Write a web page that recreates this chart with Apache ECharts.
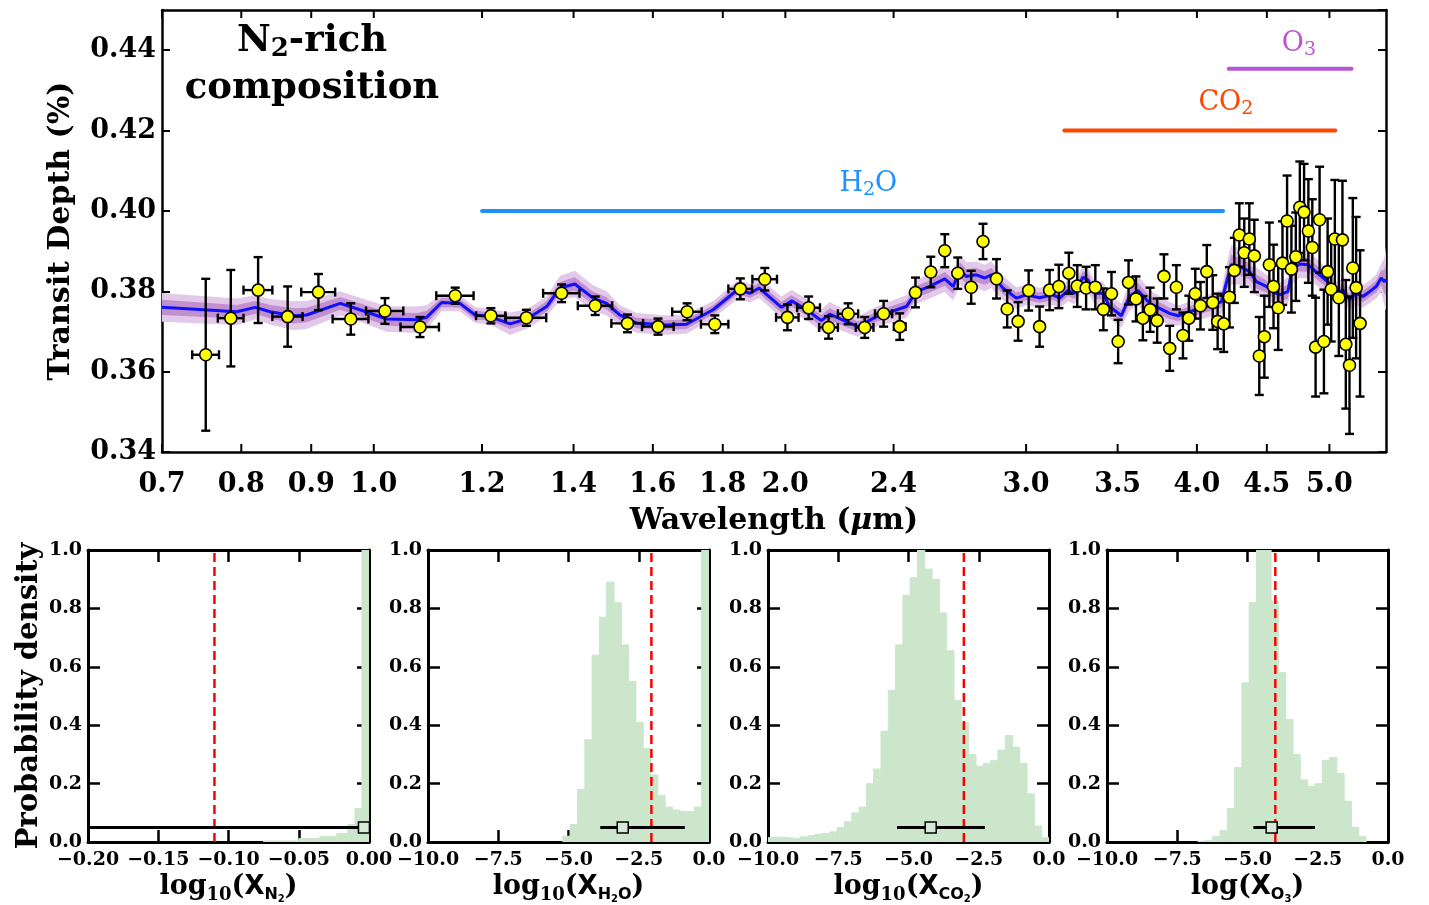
<!DOCTYPE html>
<html><head><meta charset="utf-8">
<script src="https://cdn.jsdelivr.net/npm/echarts@6/dist/echarts.min.js"></script>
<style>html,body{margin:0;padding:0;background:#fff}#c{width:1429px;height:905px}</style>
</head><body><div id="c"></div>
<script>
// ---------------- DATA ----------------
const obsWl = [0.7535,0.786,0.823,0.865,0.911,0.962,1.019,1.081,1.147,1.218,
 1.293,1.372,1.452,1.533,1.614,1.695,1.776,1.854,1.932,2.007,
 2.080,2.151,2.223,2.286,2.360,2.425,2.490,2.555,2.616,2.674,
 2.735,2.790,2.854,2.906,2.960,3.013,3.069,3.121,3.170,3.224,
 3.270,3.319,3.371,3.417,3.464,3.503,3.565,3.610,3.652,3.697,
 3.741,3.784,3.821,3.864,3.907,3.946,3.989,4.024,4.067,4.108,
 4.142,4.185,4.225,4.260,4.296,4.332,4.369,4.406,4.443,4.481,
 4.519,4.551,4.587,4.620,4.656,4.690,4.725,4.757,4.791,4.826,
 4.858,4.885,4.918,4.954,4.985,5.015,5.046,5.080,5.111,5.140,
 5.172,5.201,5.230,5.265];
const obsDepth = [0.3642,0.3733,0.3803,0.3737,0.3798,0.3731,0.3751,0.3711,0.3789,0.3739,
 0.3734,0.3795,0.3764,0.3720,0.3712,0.3749,0.3718,0.3806,0.3830,0.3735,
 0.3759,0.3710,0.3744,0.3710,0.3744,0.3712,0.3797,0.3848,0.3901,0.3845,
 0.3810,0.3924,0.3831,0.3756,0.3725,0.3802,0.3712,0.3803,0.3812,0.3845,
 0.3813,0.3808,0.3810,0.3755,0.3794,0.3675,0.3822,0.3781,0.3733,0.3754,
 0.3727,0.3837,0.3658,0.3810,0.3690,0.3733,0.3794,0.3764,0.3849,0.3772,
 0.3725,0.3719,0.3785,0.3852,0.3940,0.3896,0.3930,0.3888,0.3639,0.3687,
 0.3866,0.3812,0.3759,0.3870,0.3975,0.3855,0.3886,0.4009,0.3997,0.3950,
 0.3909,0.3661,0.3978,0.3675,0.3849,0.3805,0.3930,0.3784,0.3928,0.3668,
 0.3616,0.3858,0.3809,0.3720];
const obsErr = [0.0189,0.0120,0.0082,0.0075,0.0045,0.0039,0.0032,0.0025,0.0020,0.0019,
 0.0020,0.0022,0.0023,0.0022,0.0020,0.0021,0.0022,0.0026,0.0028,0.0032,
 0.0028,0.0028,0.0026,0.0026,0.0032,0.0033,0.0037,0.0038,0.0041,0.0039,
 0.0041,0.0044,0.0049,0.0046,0.0048,0.0050,0.0050,0.0050,0.0054,0.0051,
 0.0052,0.0053,0.0055,0.0052,0.0054,0.0054,0.0055,0.0056,0.0055,0.0055,
 0.0055,0.0055,0.0056,0.0055,0.0057,0.0056,0.0062,0.0059,0.0066,0.0068,
 0.0069,0.0070,0.0075,0.0081,0.0079,0.0085,0.0089,0.0090,0.0097,0.0102,
 0.0105,0.0104,0.0105,0.0104,0.0113,0.0108,0.0110,0.0114,0.0120,0.0129,
 0.0120,0.0123,0.0132,0.0129,0.0132,0.0130,0.0147,0.0145,0.0147,0.0160,
 0.0171,0.0174,0.0176,0.0182];
const obsWlErr = [0.017,0.017,0.020,0.022,0.026,0.029,0.032,0.035,0.036,0.030,
 0.044,0.042,0.042,0.041,0.043,0.042,0.041,0.037,0.040,0.038,
 0.040,0.034,0.038,0.034,0.034,0.024,0.018,0.015,0.015,0.015,
 0.015,0.015,0.015,0,0,0,0,0,0,0,
 0,0,0,0,0,0,0,0,0,0,
 0,0,0,0,0,0,0,0,0,0,
 0,0,0,0,0,0,0,0,0,0,
 0,0,0,0,0,0,0,0,0,0,
 0,0,0,0,0,0,0,0,0,0,
 0,0,0,0];

const modelWl = [0.700,0.794,0.819,0.840,0.873,0.893,0.945,0.977,1.022,1.075,
 1.093,1.121,1.156,1.186,1.216,1.258,1.294,1.338,1.368,1.403,
 1.447,1.480,1.513,1.557,1.637,1.693,1.771,1.847,1.884,1.914,
 1.987,2.021,2.073,2.125,2.155,2.260,2.332,2.452,2.494,2.550,
 2.616,2.653,2.683,2.713,2.759,2.798,2.830,2.885,2.951,3.001,
 3.069,3.139,3.175,3.219,3.256,3.301,3.329,3.367,3.415,3.453,
 3.522,3.571,3.622,3.694,3.820,3.874,3.951,4.064,4.168,4.203,
 4.238,4.298,4.371,4.421,4.496,4.546,4.598,4.662,4.697,4.729,
 4.755,4.822,4.918,5.001,5.058,5.114,5.172,5.231,5.290,5.350,
 5.410,5.456,5.486,5.500];
const modelDepth = [0.3760,0.3749,0.3760,0.3749,0.3739,0.3741,0.3770,0.3754,0.3731,0.3729,
 0.3735,0.3772,0.3770,0.3741,0.3737,0.3719,0.3731,0.3762,0.3808,0.3818,
 0.3783,0.3770,0.3741,0.3721,0.3716,0.3718,0.3754,0.3805,0.3795,0.3808,
 0.3760,0.3776,0.3754,0.3727,0.3743,0.3712,0.3737,0.3762,0.3799,0.3812,
 0.3831,0.3812,0.3853,0.3837,0.3841,0.3833,0.3841,0.3808,0.3783,0.3791,
 0.3784,0.3791,0.3783,0.3802,0.3795,0.3835,0.3828,0.3795,0.3795,0.3762,
 0.3739,0.3787,0.3802,0.3770,0.3745,0.3739,0.3749,0.3762,0.3774,0.3820,
 0.3866,0.3862,0.3849,0.3824,0.3812,0.3799,0.3791,0.3799,0.3858,0.3862,
 0.3868,0.3866,0.3841,0.3820,0.3795,0.3803,0.3780,0.3795,0.3787,0.3799,
 0.3812,0.3833,0.3824,0.3830];
const modelSigma2 = [0.0036,0.0033,0.0030,0.0032,0.0036,0.0035,0.0030,0.0030,0.0032,0.0033,
 0.0030,0.0022,0.0020,0.0020,0.0019,0.0028,0.0024,0.0025,0.0030,0.0033,
 0.0032,0.0030,0.0025,0.0025,0.0024,0.0024,0.0022,0.0023,0.0023,0.0025,
 0.0027,0.0028,0.0027,0.0028,0.0030,0.0025,0.0025,0.0028,0.0030,0.0030,
 0.0033,0.0035,0.0037,0.0035,0.0033,0.0033,0.0033,0.0030,0.0027,0.0025,
 0.0025,0.0025,0.0025,0.0027,0.0027,0.0030,0.0030,0.0030,0.0030,0.0030,
 0.0030,0.0035,0.0037,0.0033,0.0028,0.0025,0.0025,0.0028,0.0030,0.0045,
 0.0050,0.0045,0.0040,0.0035,0.0030,0.0030,0.0030,0.0035,0.0040,0.0035,
 0.0035,0.0035,0.0033,0.0030,0.0028,0.0028,0.0028,0.0028,0.0028,0.0028,
 0.0030,0.0035,0.0060,0.0080];
const modelSigma1 = [0.0019,0.0017,0.0016,0.0017,0.0019,0.0018,0.0016,0.0016,0.0017,0.0017,
 0.0016,0.0012,0.0011,0.0011,0.0010,0.0013,0.0012,0.0013,0.0015,0.0017,
 0.0016,0.0015,0.0013,0.0013,0.0012,0.0012,0.0011,0.0012,0.0012,0.0013,
 0.0014,0.0014,0.0014,0.0014,0.0015,0.0013,0.0013,0.0014,0.0015,0.0015,
 0.0017,0.0018,0.0019,0.0018,0.0017,0.0017,0.0017,0.0015,0.0014,0.0013,
 0.0013,0.0013,0.0013,0.0014,0.0014,0.0015,0.0015,0.0015,0.0015,0.0015,
 0.0015,0.0018,0.0019,0.0017,0.0014,0.0013,0.0013,0.0014,0.0015,0.0022,
 0.0025,0.0022,0.0020,0.0018,0.0015,0.0015,0.0015,0.0018,0.0020,0.0018,
 0.0018,0.0018,0.0017,0.0015,0.0014,0.0014,0.0014,0.0014,0.0014,0.0014,
 0.0015,0.0018,0.0030,0.0040];

const wlTicks = [0.7,0.8,0.9,1.0,1.2,1.4,1.6,1.8,2.0,2.4,3.0,3.5,4.0,4.5,5.0];

const featNames = ['{a|H}{s|2}{a|O}','{a|CO}{s|2}','{a|O}{s|3}'];
const featStart = [1.20, 3.20, 4.22];
const featEnd = [4.18, 5.05, 5.19];
const featLevel = [0.400, 0.420, 0.4354];
const featLabelWl = [2.30, 4.20, 4.75];
const featLabelDepth = [0.4068, 0.4269, 0.4416];

// posterior histograms (bin edges, normalised heights)
const n2Edges = [-0.075,-0.05,-0.035,-0.023,-0.015,-0.01,-0.005,0];
const n2Hist = [0.004,0.012,0.02,0.03,0.06,0.115,1.2];
const h2oBinStart = -5.20, h2oBinWidth = 0.26;
const h2oHist = [0.02,0.06,0.18,0.35,0.64,0.77,0.89,0.82,0.675,0.55,
 0.41,0.32,0.23,0.16,0.12,0.11,0.105,0.105,0.12,1.2];
const co2BinStart = -10.14, co2BinWidth = 0.26;
const co2Hist = [0.015,0.017,0.017,0.015,0.013,0.018,0.022,0.027,0.03,0.035,
 0.05,0.07,0.10,0.12,0.20,0.25,0.38,0.52,0.675,0.845,
 0.905,1.0,0.935,0.90,0.785,0.655,0.485,0.41,0.30,0.26,
 0.27,0.28,0.315,0.365,0.325,0.27,0.165,0.055,0.015];
const o3BinStart = -6.76, o3BinWidth = 0.26;
const o3Hist = [0.003,0.006,0.02,0.04,0.115,0.255,0.545,0.82,1.1,1.1,
 0.825,0.58,0.42,0.30,0.213,0.19,0.20,0.28,0.29,0.235,
 0.14,0.05,0.02];

const retrieved = [-0.0036, -3.07, -4.21, -4.14];
const retrievedLo = [-0.20, -3.87, -5.41, -4.79];
const retrievedHi = [-0.001, -0.86, -2.28, -2.60];
const trueValue = [-0.11, -2.05, -3.03, -4.01];

// ---------------- CHART ----------------
const SERIF = '"DejaVu Serif", "Liberation Serif", serif';
const SANS = '"DejaVu Sans", sans-serif';
const Y_MIN = 0.34, Y_MAX = 0.45;

function regularEdges(start, w, n){ const e=[]; for(let i=0;i<=n;i++) e.push(+(start+i*w).toFixed(4)); return e; }
function histItems(edges, h){ return h.map((v,i)=>[edges[i], edges[i+1], v]); }
const histSets = [
  histItems(n2Edges, n2Hist),
  histItems(regularEdges(h2oBinStart,h2oBinWidth,h2oHist.length), h2oHist),
  histItems(regularEdges(co2BinStart,co2BinWidth,co2Hist.length), co2Hist),
  histItems(regularEdges(o3BinStart,o3BinWidth,o3Hist.length), o3Hist)
];

const panelLeft = [88, 428, 768, 1107];
const panelW = 281, panelTop = 550, panelH = 294;
const panelX = [
  {min:-0.2, max:0, interval:0.05, dec:2},
  {min:-10, max:0, interval:2.5, dec:1},
  {min:-10, max:0, interval:2.5, dec:1},
  {min:-10, max:0, interval:2.5, dec:1}
];
const panelNames = [
  '{a|log}{t|10}{a|(}{x|X}{s|N}{u|2}{a|)}',
  '{a|log}{t|10}{a|(}{x|X}{s|H}{u|2}{s|O}{a|)}',
  '{a|log}{t|10}{a|(}{x|X}{s|CO}{u|2}{a|)}',
  '{a|log(}{x|X}{s|O}{u|3}{a|)}'
];
const nameRich = {
  a:{fontFamily:SERIF, fontWeight:'bold', fontSize:27, color:'#000', lineHeight:34},
  t:{fontFamily:SERIF, fontWeight:'bold', fontSize:18, color:'#000', lineHeight:18, padding:[16,0,0,0]},
  x:{fontFamily:SANS, fontWeight:'bold', fontSize:26, color:'#000', lineHeight:34},
  s:{fontFamily:SANS, fontWeight:'bold', fontSize:16, color:'#000', lineHeight:16, padding:[16,0,0,0]},
  u:{fontFamily:SANS, fontWeight:'bold', fontSize:10, color:'#000', lineHeight:10, padding:[24,0,0,0]}
};

const grids = [{left:162, top:10, width:1224, height:442}];
panelLeft.forEach(l=>grids.push({left:l, top:panelTop, width:panelW, height:panelH}));

const frame = (w)=>({show:true, onZero:false, lineStyle:{color:'#000', width:w}});
const xAxes = [
  {type:'log', logBase:10, gridIndex:0, min:0.7, max:5.5, axisLine:frame(2.5), axisTick:{show:false}, axisLabel:{show:false}, splitLine:{show:false},
   name:'{a|Wavelength (}{m|μ}{a|m)}', nameLocation:'middle', nameGap:54,
   nameTextStyle:{rich:{a:{fontFamily:SERIF, fontWeight:'bold', fontSize:30, color:'#000'}, m:{fontFamily:SERIF, fontWeight:'bold', fontStyle:'italic', fontSize:30, color:'#000'}}}},
  {type:'log', logBase:10, gridIndex:0, position:'top', min:0.7, max:5.5, axisLine:frame(2.5), axisTick:{show:false}, axisLabel:{show:false}, splitLine:{show:false}}
];
const yAxes = [
  {type:'value', gridIndex:0, min:Y_MIN, max:Y_MAX, interval:0.02, axisLine:frame(2.5),
   axisTick:{show:true, inside:true, length:8, lineStyle:{width:2, color:'#000'}},
   axisLabel:{formatter:v=>v.toFixed(2), margin:6, fontFamily:SERIF, fontWeight:'bold', fontSize:27, color:'#000', showMaxLabel:false},
   splitLine:{show:false},
   name:'Transit Depth (%)', nameLocation:'middle', nameGap:86, nameRotate:90,
   nameTextStyle:{fontFamily:SERIF, fontWeight:'bold', fontSize:30, color:'#000'}},
  {type:'value', gridIndex:0, position:'right', min:Y_MIN, max:Y_MAX, interval:0.02, axisLine:frame(2.5),
   axisTick:{show:true, inside:true, length:8, lineStyle:{width:2, color:'#000'}}, axisLabel:{show:false}, splitLine:{show:false}}
];
const tickStyle = {show:true, inside:true, length:12, lineStyle:{width:2.5, color:'#000'}};
panelX.forEach((p,i)=>{
  const g=i+1;
  xAxes.push({type:'value', gridIndex:g, min:p.min, max:p.max, interval:p.interval, axisLine:frame(3), axisTick:tickStyle,
    axisLabel:{formatter:v=>v.toFixed(p.dec).replace('-','−'), margin:8, fontFamily:SERIF, fontWeight:'bold', fontSize:19, color:'#000', showMinLabel:true, showMaxLabel:true},
    splitLine:{show:false}, name:panelNames[i], nameLocation:'middle', nameGap:16, nameTextStyle:{rich:nameRich, verticalAlign:'top'}});
  xAxes.push({type:'value', gridIndex:g, position:'top', min:p.min, max:p.max, interval:p.interval, axisLine:frame(3), axisTick:tickStyle, axisLabel:{show:false}, splitLine:{show:false}});
  const yl = {type:'value', gridIndex:g, min:0, max:1, interval:0.2, axisLine:frame(3), axisTick:tickStyle,
    axisLabel:{formatter:v=>v.toFixed(1), margin:6, fontFamily:SERIF, fontWeight:'bold', fontSize:19, color:'#000', showMinLabel:true, showMaxLabel:true},
    splitLine:{show:false}};
  if(i===0){ Object.assign(yl,{name:'Probability density', nameLocation:'middle', nameGap:44, nameRotate:90,
    nameTextStyle:{fontFamily:SERIF, fontWeight:'bold', fontSize:29, color:'#000'}}); }
  yAxes.push(yl);
  yAxes.push({type:'value', gridIndex:g, position:'right', min:0, max:1, interval:0.2, axisLine:frame(3), axisTick:tickStyle, axisLabel:{show:false}, splitLine:{show:false}});
});

const series = [];
// uncertainty bands
series.push({type:'custom', xAxisIndex:0, yAxisIndex:0, clip:true, silent:true, z:1,
  data:[[modelWl[0], modelDepth[0]]], encode:{x:0,y:1},
  renderItem:(params, api)=>{
    function poly(sig){
      const up=[], lo=[];
      for(let i=0;i<modelWl.length;i++){
        up.push(api.coord([modelWl[i], modelDepth[i]+sig[i]]));
        lo.push(api.coord([modelWl[i], modelDepth[i]-sig[i]]));
      }
      return up.concat(lo.reverse());
    }
    return {type:'group', children:[
      {type:'polygon', shape:{points:poly(modelSigma2)}, style:{fill:'#e3c9e9'}},
      {type:'polygon', shape:{points:poly(modelSigma1)}, style:{fill:'#c28fcf'}}
    ]};
  }});
// model
series.push({type:'line', xAxisIndex:0, yAxisIndex:0, z:2, showSymbol:false, silent:true,
  data:modelWl.map((w,i)=>[w, modelDepth[i]]), lineStyle:{color:'#1010ff', width:3}});
// error bars
series.push({type:'custom', xAxisIndex:0, yAxisIndex:0, z:3, silent:true,
  data:obsWl.map((w,i)=>[w, obsDepth[i], obsErr[i], obsWlErr[i]]), encode:{x:0,y:1},
  renderItem:(params, api)=>{
    const x=api.value(0), y=api.value(1), ye=api.value(2), xe=api.value(3);
    const st={stroke:'#000', lineWidth:2.4};
    const t=api.coord([x,y+ye]), b=api.coord([x,y-ye]);
    const ch=[
      {type:'line', shape:{x1:t[0],y1:t[1],x2:b[0],y2:b[1]}, style:st},
      {type:'line', shape:{x1:t[0]-4.5,y1:t[1],x2:t[0]+4.5,y2:t[1]}, style:st},
      {type:'line', shape:{x1:b[0]-4.5,y1:b[1],x2:b[0]+4.5,y2:b[1]}, style:st}
    ];
    if(xe>0){
      const l=api.coord([x-xe,y]), r=api.coord([x+xe,y]);
      ch.push({type:'line', shape:{x1:l[0],y1:l[1],x2:r[0],y2:r[1]}, style:st});
      ch.push({type:'line', shape:{x1:l[0],y1:l[1]-4.5,x2:l[0],y2:l[1]+4.5}, style:st});
      ch.push({type:'line', shape:{x1:r[0],y1:r[1]-4.5,x2:r[0],y2:r[1]+4.5}, style:st});
    }
    return {type:'group', children:ch};
  }});
// data points
series.push({type:'scatter', xAxisIndex:0, yAxisIndex:0, z:4, silent:true, symbol:'circle', symbolSize:12,
  data:obsWl.map((w,i)=>[w, obsDepth[i]]), itemStyle:{color:'#ffff00', borderColor:'#000', borderWidth:1.6, opacity:1}});
// molecule feature bars
const featColors = ['#1e90ff','#ff4500','#ba55d3'];
series.push({type:'custom', xAxisIndex:0, yAxisIndex:0, z:5, silent:true,
  data:featStart.map((s,i)=>[s, featLevel[i], featEnd[i], featLabelWl[i], featLabelDepth[i]]), encode:{x:0,y:1},
  renderItem:(params, api)=>{
    const i=params.dataIndex;
    const a=api.coord([api.value(0), api.value(1)]), b=api.coord([api.value(2), api.value(1)]);
    const l=api.coord([api.value(3), api.value(4)]);
    const c=featColors[i];
    return {type:'group', children:[
      {type:'line', shape:{x1:a[0],y1:a[1],x2:b[0],y2:b[1]}, style:{stroke:c, lineWidth:4, lineCap:'round'}},
      {type:'text', style:{text:featNames[i], x:l[0], y:l[1], align:'center', verticalAlign:'middle',
        rich:{a:{fontFamily:SERIF, fontSize:27, fill:c, lineHeight:32},
              s:{fontFamily:SERIF, fontSize:19, fill:c, lineHeight:19, padding:[13,0,0,0]}}}}
    ]};
  }});
// wavelength ticks & labels
series.push({type:'custom', xAxisIndex:0, yAxisIndex:0, z:6, silent:true, clip:false,
  data:wlTicks.map(v=>[v, Y_MIN]), encode:{x:0,y:1},
  renderItem:(params, api)=>{
    const v=api.value(0);
    const b=api.coord([v,Y_MIN]), t=api.coord([v,Y_MAX]);
    const st={stroke:'#000', lineWidth:2};
    return {type:'group', children:[
      {type:'line', shape:{x1:b[0],y1:b[1],x2:b[0],y2:b[1]-8}, style:st},
      {type:'line', shape:{x1:t[0],y1:t[1],x2:t[0],y2:t[1]+8}, style:st},
      {type:'text', style:{text:v.toFixed(1), x:b[0], y:b[1]+19, align:'center', verticalAlign:'top', font:'bold 27px '+SERIF, fill:'#000'}}
    ]};
  }});

// posterior panels
histSets.forEach((items, i)=>{
  const xi = 2+2*i, yi = 2+2*i;
  series.push({type:'custom', xAxisIndex:xi, yAxisIndex:yi, z:1, silent:true, clip:true,
    data:items, encode:{x:[0,1], y:2},
    renderItem:(params, api)=>{
      const a=api.coord([api.value(0), api.value(2)]), b=api.coord([api.value(1), 0]);
      return {type:'rect', shape:{x:a[0], y:a[1], width:b[0]-a[0], height:b[1]-a[1]}, style:{fill:'#cce6cc', stroke:'#cce6cc', lineWidth:1}};
    }});
  series.push({type:'line', xAxisIndex:xi, yAxisIndex:yi, z:2, silent:true, showSymbol:false, clip:true,
    data:[[trueValue[i],0],[trueValue[i],1]], lineStyle:{color:'#ff0000', width:2.5, type:[9,5]}});
  series.push({type:'line', xAxisIndex:xi, yAxisIndex:yi, z:3, silent:true, showSymbol:false, clip:true,
    data:[[retrievedLo[i],0.05],[retrievedHi[i],0.05]], lineStyle:{color:'#000', width:3}});
  series.push({type:'scatter', xAxisIndex:xi, yAxisIndex:yi, z:4, silent:true, symbol:'rect', symbolSize:11,
    data:[[retrieved[i],0.05]], itemStyle:{color:'#d6e8d6', borderColor:'#000', borderWidth:1.5, opacity:1}});
});

const chart = echarts.init(document.getElementById('c'), null, {renderer:'canvas'});
chart.setOption({
  animation:false,
  backgroundColor:'#fff',
  grid:grids, xAxis:xAxes, yAxis:yAxes, series:series,
  graphic:[{type:'text', x:312, y:18, z:10, style:{text:'{a|N}{s|2}{a|-rich}\n{a|composition}', align:'center', verticalAlign:'top',
    rich:{a:{fontFamily:SERIF, fontWeight:'bold', fontSize:37, lineHeight:47, fill:'#000'},
          s:{fontFamily:SERIF, fontWeight:'bold', fontSize:26, lineHeight:26, padding:[16,0,0,0], fill:'#000'}}}}]
});
</script></body></html>
